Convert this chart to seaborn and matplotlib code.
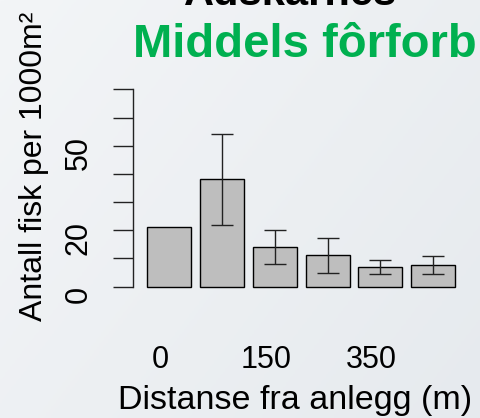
import numpy as np
import pandas as pd
import matplotlib
matplotlib.use("Agg")
import matplotlib.pyplot as plt
import matplotlib.transforms as mtransforms
import seaborn as sns

# Values
distances = ["0", "50", "150", "250", "350", "500"]
mean_fish = [21.1, 38.1, 14.0, 11.1, 6.9, 7.6]
err_fish = [np.nan, 16.1, 6.0, 6.1, 2.5, 3.2]
x_tick_labels = ["0", "", "150", "", "350", ""]
y_ticks = [0, 10, 20, 30, 40, 50, 60, 70]
y_tick_labels = ["0", "", "20", "", "", "50", "", ""]

title_text = "Adskarnes"
subtitle_text = "Middels fôrforbruk"
x_label = "Distanse fra anlegg (m)"
y_label = "Antall fisk per 1000m²"

sns.set_style("white")
plt.rcParams["font.family"] = ["Liberation Sans", "DejaVu Sans"]
plt.rcParams["text.color"] = "black"
plt.rcParams["xtick.color"] = "black"
plt.rcParams["ytick.color"] = "black"

W, H = 480, 418
fig = plt.figure(figsize=(W / 100, H / 100), dpi=100)

# light gradient background
bg = fig.add_axes([0, 0, 1, 1], zorder=-10)
gx, gy = np.meshgrid(np.linspace(0, 1, 200), np.linspace(0, 1, 200))
grad = 0.6 * gx + 0.4 * gy
bg.imshow(grad, cmap=matplotlib.colors.LinearSegmentedColormap.from_list(
    "bg", ["#F3F5F7", "#E6EAEE"]), aspect="auto", extent=[0, 1, 0, 1])
bg.axis("off")

ax = fig.add_axes([0.2779, 0.3074, 0.7013, 0.4924])
ax.patch.set_alpha(0)

df = pd.DataFrame({"dist": distances, "fish": mean_fish, "err": err_fish})
sns.barplot(data=df, x="dist", y="fish", order=distances, color="#BEBEBE",
            saturation=1, edgecolor="black", linewidth=1.0, width=1 / 1.2,
            errorbar=None, ax=ax)
ax.errorbar(np.arange(len(distances)), df["fish"], yerr=df["err"], fmt="none",
            ecolor="#222222", elinewidth=1.0, capsize=7.8, capthick=1.0)

ax.set_xlim(-0.68, 5.7)
ax.set_ylim(-1, 72)

for s in ["top", "right", "bottom"]:
    ax.spines[s].set_visible(False)
ax.spines["left"].set_bounds(0, 70)
ax.spines["left"].set_linewidth(1.0)
ax.spines["left"].set_color("#222222")

ax.set_yticks(y_ticks)
ax.set_yticklabels(y_tick_labels, rotation=90, va="center", fontsize=22)
ax.tick_params(axis="y", left=True, length=14.4, width=1.0, color="#222222", pad=14)
ax.set_xticks(range(len(distances)))
ax.set_xticklabels(x_tick_labels, fontsize=22)
ax.tick_params(axis="x", bottom=False, length=0, pad=40)
ax.set_xlabel("")
ax.set_ylabel("")

# small offsets of the labels as in the reference
for lab in ax.get_yticklabels():
    lab.set_transform(lab.get_transform() + mtransforms.ScaledTranslation(0, -0.075, fig.dpi_scale_trans))
for lab in ax.get_xticklabels():
    lab.set_transform(lab.get_transform() + mtransforms.ScaledTranslation(-0.085, 0, fig.dpi_scale_trans))

fig.text(118 / W, 1 - 409 / H, x_label, fontsize=24.5, ha="left", va="baseline")
fig.text(34 / W, 1 - 166 / H, y_label, fontsize=23, rotation=90, ha="center", va="center")

fig.text(291 / W, 1 - 4.7 / H, title_text, fontsize=30, fontweight="bold",
         ha="center", va="baseline", color="black")
fig.text(133 / W, 1 - 57.3 / H, subtitle_text, fontsize=34, fontweight="bold",
         ha="left", va="baseline", color="#00B050")

fig.savefig("out.png", dpi=100)
